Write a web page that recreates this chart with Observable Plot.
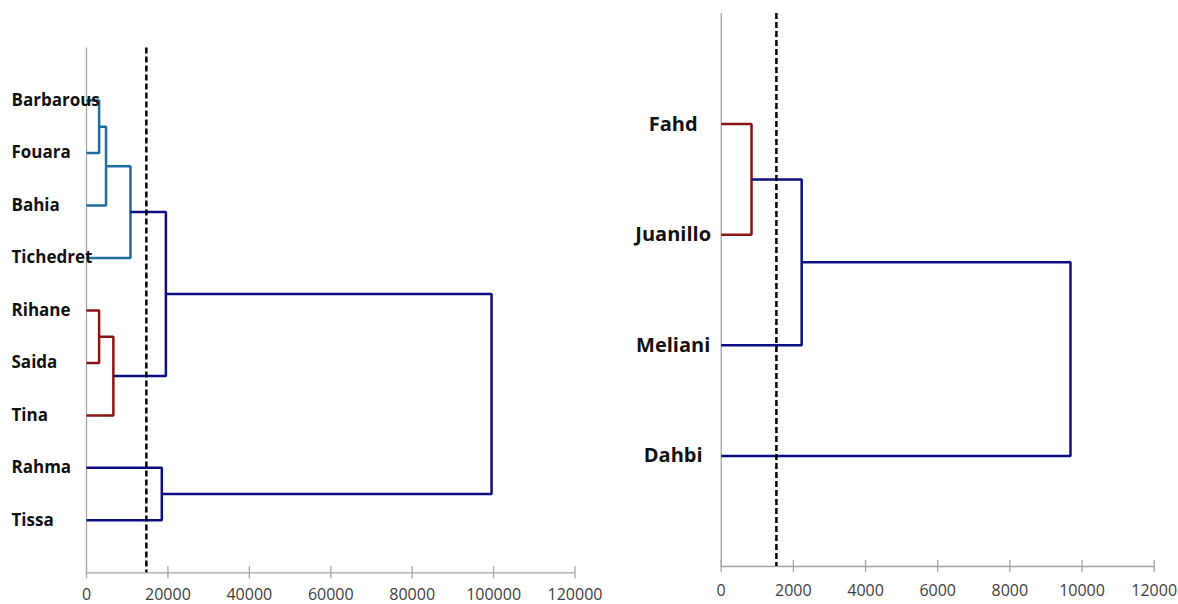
<!DOCTYPE html>
<html>
<head>
<meta charset="utf-8">
<script src="https://cdn.jsdelivr.net/npm/d3@7"></script>
<script src="https://cdn.jsdelivr.net/npm/@observablehq/plot@0.6"></script>
<style>
  html, body { margin: 0; padding: 0; background: #fff; }
  #wrap { position: relative; width: 1178px; height: 604px; overflow: hidden; }
  #left { position: absolute; left: 0; top: 0; }
  #right { position: absolute; left: 600px; top: 0; }
</style>
</head>
<body>
<div id="wrap"><div id="left"></div><div id="right"></div></div>
<script>
// ---- Left dendrogram data ----
const leftLeaves = ["Barbarous", "Fouara", "Bahia", "Tichedret", "Rihane", "Saida", "Tina", "Rahma", "Tissa"];
// merges: child A id, child B id (leaves 0..n-1, merges n..), height, cluster
const leftMergeA = [0, 9, 10, 4, 12, 11, 7, 14];
const leftMergeB = [1, 2, 3, 5, 6, 13, 8, 15];
const leftHeights = [3100, 4800, 10800, 3100, 6600, 19500, 18500, 99500];
const leftClusters = ["teal", "teal", "teal", "red", "red", "navy", "navy", "navy"];
const leftCut = 14700;
const leftTicks = [0, 20000, 40000, 60000, 80000, 100000, 120000];

// ---- Right dendrogram data ----
const rightLeaves = ["Fahd", "Juanillo", "Meliani", "Dahbi"];
const rightMergeA = [0, 4, 5];
const rightMergeB = [1, 2, 3];
const rightHeights = [840, 2230, 9680];
const rightClusters = ["red", "navy", "navy"];
const rightCut = 1530;
const rightTicks = [0, 2000, 4000, 6000, 8000, 10000, 12000];

const palette = { teal: "#1c6e9e", red: "#8b1414", navy: "#0d0d85" };

function buildUs(leaves, A, B, H, C) {
  const nodes = leaves.map((name, i) => ({ x: 0, y: i + 1 }));
  const pts = [];
  H.forEach((h, k) => {
    const a = nodes[A[k]], b = nodes[B[k]];
    nodes.push({ x: h, y: (a.y + b.y) / 2 });
    const c = C[k];
    pts.push({ id: k, c, x: a.x, y: a.y });
    pts.push({ id: k, c, x: h, y: a.y });
    pts.push({ id: k, c, x: h, y: b.y });
    pts.push({ id: k, c, x: b.x, y: b.y });
  });
  return pts;
}

function dendro({ leaves, A, B, H, C, cut, ticks, width, mL, mR, mT, mB, labelDx, labelAnchor, labelSize, tickPad }) {
  const pts = buildUs(leaves, A, B, H, C);
  const n = leaves.length;
  const labels = leaves.map((name, i) => ({ name, y: i + 1 }));
  const axisColor = "#a6a6a6";
  return Plot.plot({
    width, height: 604,
    marginLeft: mL, marginRight: mR, marginTop: mT, marginBottom: mB,
    x: { domain: [ticks[0], ticks[ticks.length - 1]], axis: null },
    y: { domain: [0, n + 1], reverse: true, axis: null },
    style: { background: "transparent", overflow: "visible" },
    marks: [
      Plot.ruleX([0], { stroke: axisColor, strokeWidth: 1.3 }),
      Plot.ruleY([n + 1], { stroke: axisColor, strokeWidth: 1.3 }),
      Plot.axisX({ ticks, tickSize: 12, dy: -6, stroke: axisColor, strokeWidth: 1.3, tickFormat: () => "", label: null }),
      Plot.axisX({ ticks, tickSize: 0, tickPadding: tickPad, tickFormat: d3.format("d"), label: null,
        fill: "#404040", fontSize: 16, fontFamily: "Open Sans, sans-serif" }),
      Plot.line(pts, { x: "x", y: "y", z: "id", stroke: d => palette[d.c], strokeWidth: 2.5,
        strokeLinejoin: "miter", strokeLinecap: "butt", curve: "linear" }),
      Plot.ruleX([cut], { stroke: "#000", strokeWidth: 2.5, strokeDasharray: "6,3" }),
      Plot.text(labels, { x: 0, y: "y", text: "name", dx: labelDx, textAnchor: labelAnchor,
        fontSize: labelSize, fontWeight: "bold", fontFamily: "Open Sans, sans-serif", fill: "#111", lineAnchor: "middle" })
    ]
  });
}

document.getElementById("left").appendChild(dendro({
  leaves: leftLeaves, A: leftMergeA, B: leftMergeB, H: leftHeights, C: leftClusters,
  cut: leftCut, ticks: leftTicks, width: 600, mL: 86, mR: 25.5, mT: 47.6, mB: 31.7,
  labelDx: -75, labelAnchor: "start", labelSize: 17, tickPad: 16
}));
document.getElementById("right").appendChild(dendro({
  leaves: rightLeaves, A: rightMergeA, B: rightMergeB, H: rightHeights, C: rightClusters,
  cut: rightCut, ticks: rightTicks, width: 578, mL: 120.7, mR: 24.3, mT: 13, mB: 38,
  labelDx: -48, labelAnchor: "middle", labelSize: 20, tickPad: 18
}));
</script>
</body>
</html>
